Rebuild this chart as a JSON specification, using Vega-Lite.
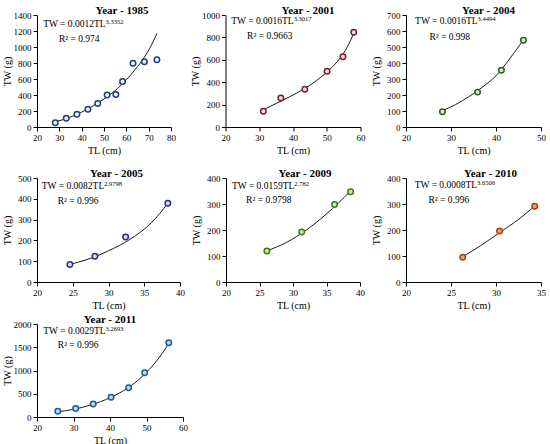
{
  "$schema": "https://vega.github.io/schema/vega-lite/v6.json",
  "background": "white",
  "padding": {"left": 2, "top": 5, "right": 0, "bottom": 0},
  "datasets": {
    "pts": [
      {"year": 1985, "x": 28.2, "y": 54}, {"year": 1985, "x": 33.1, "y": 109}, {"year": 1985, "x": 37.9, "y": 159},
      {"year": 1985, "x": 42.8, "y": 221}, {"year": 1985, "x": 47.2, "y": 293}, {"year": 1985, "x": 51.4, "y": 401},
      {"year": 1985, "x": 55.3, "y": 405}, {"year": 1985, "x": 58.3, "y": 568}, {"year": 1985, "x": 63.0, "y": 798},
      {"year": 1985, "x": 68.1, "y": 815}, {"year": 1985, "x": 73.7, "y": 840},
      {"year": 2001, "x": 31.2, "y": 140}, {"year": 2001, "x": 36.4, "y": 259}, {"year": 2001, "x": 43.5, "y": 338},
      {"year": 2001, "x": 50.1, "y": 497}, {"year": 2001, "x": 54.8, "y": 628}, {"year": 2001, "x": 58.0, "y": 845},
      {"year": 2004, "x": 28.1, "y": 96}, {"year": 2004, "x": 35.9, "y": 218}, {"year": 2004, "x": 41.2, "y": 355},
      {"year": 2004, "x": 46.1, "y": 542},
      {"year": 2005, "x": 24.6, "y": 84}, {"year": 2005, "x": 28.1, "y": 124}, {"year": 2005, "x": 32.4, "y": 216},
      {"year": 2005, "x": 38.3, "y": 379},
      {"year": 2009, "x": 26.1, "y": 119}, {"year": 2009, "x": 31.3, "y": 192}, {"year": 2009, "x": 36.2, "y": 298},
      {"year": 2009, "x": 38.6, "y": 347},
      {"year": 2010, "x": 26.3, "y": 95}, {"year": 2010, "x": 30.4, "y": 196}, {"year": 2010, "x": 34.3, "y": 291},
      {"year": 2011, "x": 25.7, "y": 123}, {"year": 2011, "x": 30.6, "y": 181}, {"year": 2011, "x": 35.4, "y": 282},
      {"year": 2011, "x": 40.3, "y": 426}, {"year": 2011, "x": 45.1, "y": 628}, {"year": 2011, "x": 49.5, "y": 953},
      {"year": 2011, "x": 56.1, "y": 1596}
    ],
    "fit": [
      {"year": 1985, "x": 28, "y": 62}, {"year": 1985, "x": 32, "y": 95}, {"year": 1985, "x": 36, "y": 135},
      {"year": 1985, "x": 40, "y": 185}, {"year": 1985, "x": 44, "y": 245}, {"year": 1985, "x": 48, "y": 315},
      {"year": 1985, "x": 52, "y": 390}, {"year": 1985, "x": 56, "y": 480}, {"year": 1985, "x": 60, "y": 590},
      {"year": 1985, "x": 64, "y": 720}, {"year": 1985, "x": 68, "y": 870}, {"year": 1985, "x": 71, "y": 1010},
      {"year": 1985, "x": 73.7, "y": 1170},
      {"year": 2001, "x": 31, "y": 150}, {"year": 2001, "x": 35, "y": 210}, {"year": 2001, "x": 39, "y": 270},
      {"year": 2001, "x": 43, "y": 335}, {"year": 2001, "x": 47, "y": 415}, {"year": 2001, "x": 50, "y": 490},
      {"year": 2001, "x": 53, "y": 580}, {"year": 2001, "x": 55, "y": 660}, {"year": 2001, "x": 57, "y": 770},
      {"year": 2001, "x": 58, "y": 840},
      {"year": 2004, "x": 28, "y": 100}, {"year": 2004, "x": 31, "y": 140}, {"year": 2004, "x": 34, "y": 190},
      {"year": 2004, "x": 37, "y": 250}, {"year": 2004, "x": 40, "y": 320}, {"year": 2004, "x": 43, "y": 425},
      {"year": 2004, "x": 46.1, "y": 545},
      {"year": 2005, "x": 24.6, "y": 85}, {"year": 2005, "x": 27, "y": 108}, {"year": 2005, "x": 30, "y": 150},
      {"year": 2005, "x": 33, "y": 205}, {"year": 2005, "x": 36, "y": 285}, {"year": 2005, "x": 38.3, "y": 378},
      {"year": 2009, "x": 26.1, "y": 120}, {"year": 2009, "x": 29, "y": 152}, {"year": 2009, "x": 32, "y": 200},
      {"year": 2009, "x": 35, "y": 262}, {"year": 2009, "x": 38.6, "y": 350},
      {"year": 2010, "x": 26.3, "y": 97}, {"year": 2010, "x": 28.3, "y": 140}, {"year": 2010, "x": 30.4, "y": 190},
      {"year": 2010, "x": 32.4, "y": 238}, {"year": 2010, "x": 34.3, "y": 292},
      {"year": 2011, "x": 25.7, "y": 112}, {"year": 2011, "x": 30, "y": 165}, {"year": 2011, "x": 35, "y": 265},
      {"year": 2011, "x": 40, "y": 415}, {"year": 2011, "x": 45, "y": 630}, {"year": 2011, "x": 50, "y": 960},
      {"year": 2011, "x": 53, "y": 1230}, {"year": 2011, "x": 56.1, "y": 1580}
    ],
    "lab": [
      {"year": 1985, "kind": "eq", "x": 50.7, "y": 1250, "t": "TW = 0.0012TL"},
      {"year": 1985, "kind": "sup", "x": 50.7, "y": 1250, "t": "3.3352"},
      {"year": 1985, "kind": "r2", "x": 29.8, "y": 1062, "t": "R² = 0.974"},
      {"year": 2001, "kind": "eq", "x": 40.2, "y": 924, "t": "TW = 0.0016TL"},
      {"year": 2001, "kind": "sup", "x": 40.2, "y": 924, "t": "3.3017"},
      {"year": 2001, "kind": "r2", "x": 26.4, "y": 784, "t": "R² = 0.9663"},
      {"year": 2004, "kind": "eq", "x": 35.9, "y": 642, "t": "TW = 0.0016TL"},
      {"year": 2004, "kind": "sup", "x": 35.9, "y": 642, "t": "3.4494"},
      {"year": 2004, "kind": "r2", "x": 25.2, "y": 544, "t": "R² = 0.998"},
      {"year": 2005, "kind": "eq", "x": 29.4, "y": 447, "t": "TW = 0.0082TL"},
      {"year": 2005, "kind": "sup", "x": 29.4, "y": 447, "t": "2.9798"},
      {"year": 2005, "kind": "r2", "x": 22.9, "y": 377, "t": "R² = 0.996"},
      {"year": 2009, "kind": "eq", "x": 30.2, "y": 359, "t": "TW = 0.0159TL"},
      {"year": 2009, "kind": "sup", "x": 30.2, "y": 359, "t": "2.782"},
      {"year": 2009, "kind": "r2", "x": 23.0, "y": 305, "t": "R² = 0.9798"},
      {"year": 2010, "kind": "eq", "x": 27.9, "y": 362, "t": "TW = 0.0008TL"},
      {"year": 2010, "kind": "sup", "x": 27.9, "y": 362, "t": "3.6506"},
      {"year": 2010, "kind": "r2", "x": 22.5, "y": 305, "t": "R² = 0.996"},
      {"year": 2011, "kind": "eq", "x": 38.8, "y": 1783, "t": "TW = 0.0029TL"},
      {"year": 2011, "kind": "sup", "x": 38.8, "y": 1783, "t": "3.2693"},
      {"year": 2011, "kind": "r2", "x": 25.7, "y": 1494, "t": "R² = 0.996"}
    ]
  },
  "vconcat": [
    {
      "hconcat": [
        {
          "width": 134, "height": 112,
          "title": {"text": "Year - 1985", "dx": 18},
          "encoding": {
            "x": {"field": "x", "type": "quantitative", "title": "TL (cm)", "scale": {"domain": [20, 80], "nice": false, "zero": false}, "axis": {"values": [20, 30, 40, 50, 60, 70, 80]}},
            "y": {"field": "y", "type": "quantitative", "title": "TW (g)", "scale": {"domain": [0, 1400], "nice": false}, "axis": {"values": [0, 200, 400, 600, 800, 1000, 1200, 1400]}}
          },
          "layer": [
            {"data": {"name": "fit"}, "transform": [{"filter": "datum.year == 1985"}], "mark": {"type": "line", "color": "#1a1a1a", "strokeWidth": 1, "interpolate": "monotone"}, "encoding": {}},
            {"data": {"name": "pts"}, "transform": [{"filter": "datum.year == 1985"}], "mark": {"type": "point", "shape": "circle", "filled": true, "fill": "#eef2fb", "stroke": "#203d7c", "strokeWidth": 1.5, "size": 30, "opacity": 1}},
            {"data": {"name": "lab"}, "transform": [{"filter": "datum.year == 1985 && datum.kind == 'eq'"}], "mark": {"type": "text", "align": "right", "baseline": "alphabetic", "fontSize": 9.5, "color": "#000"}, "encoding": {"text": {"field": "t"}}},
            {"data": {"name": "lab"}, "transform": [{"filter": "datum.year == 1985 && datum.kind == 'sup'"}], "mark": {"type": "text", "align": "left", "baseline": "alphabetic", "fontSize": 6.5, "dy": -3, "color": "#000"}, "encoding": {"text": {"field": "t"}}},
            {"data": {"name": "lab"}, "transform": [{"filter": "datum.year == 1985 && datum.kind == 'r2'"}], "mark": {"type": "text", "align": "left", "baseline": "alphabetic", "fontSize": 9.5, "color": "#000"}, "encoding": {"text": {"field": "t"}}}
          ]
        },
        {
          "hconcat": [
            {
              "width": 135, "height": 112,
              "title": {"text": "Year - 2001", "dx": 15},
              "encoding": {
                "x": {"field": "x", "type": "quantitative", "title": "TL (cm)", "scale": {"domain": [20, 60], "nice": false, "zero": false}, "axis": {"values": [20, 30, 40, 50, 60]}},
                "y": {"field": "y", "type": "quantitative", "title": "TW (g)", "scale": {"domain": [0, 1000], "nice": false}, "axis": {"values": [0, 200, 400, 600, 800, 1000]}}
              },
              "layer": [
                {"data": {"name": "fit"}, "transform": [{"filter": "datum.year == 2001"}], "mark": {"type": "line", "color": "#1a1a1a", "strokeWidth": 1, "interpolate": "monotone"}, "encoding": {}},
                {"data": {"name": "pts"}, "transform": [{"filter": "datum.year == 2001"}], "mark": {"type": "point", "shape": "circle", "filled": true, "fill": "#f4dcdc", "stroke": "#7a1f2b", "strokeWidth": 1.5, "size": 30, "opacity": 1}},
                {"data": {"name": "lab"}, "transform": [{"filter": "datum.year == 2001 && datum.kind == 'eq'"}], "mark": {"type": "text", "align": "right", "baseline": "alphabetic", "fontSize": 9.5, "color": "#000"}, "encoding": {"text": {"field": "t"}}},
                {"data": {"name": "lab"}, "transform": [{"filter": "datum.year == 2001 && datum.kind == 'sup'"}], "mark": {"type": "text", "align": "left", "baseline": "alphabetic", "fontSize": 6.5, "dy": -3, "color": "#000"}, "encoding": {"text": {"field": "t"}}},
                {"data": {"name": "lab"}, "transform": [{"filter": "datum.year == 2001 && datum.kind == 'r2'"}], "mark": {"type": "text", "align": "left", "baseline": "alphabetic", "fontSize": 9.5, "color": "#000"}, "encoding": {"text": {"field": "t"}}}
              ]
            },
            {
              "width": 135, "height": 112,
              "title": {"text": "Year - 2004", "dx": 15},
              "encoding": {
                "x": {"field": "x", "type": "quantitative", "title": "TL (cm)", "scale": {"domain": [20, 50], "nice": false, "zero": false}, "axis": {"values": [20, 30, 40, 50]}},
                "y": {"field": "y", "type": "quantitative", "title": "TW (g)", "scale": {"domain": [0, 700], "nice": false}, "axis": {"values": [0, 100, 200, 300, 400, 500, 600, 700]}}
              },
              "layer": [
                {"data": {"name": "fit"}, "transform": [{"filter": "datum.year == 2004"}], "mark": {"type": "line", "color": "#1a1a1a", "strokeWidth": 1, "interpolate": "monotone"}, "encoding": {}},
                {"data": {"name": "pts"}, "transform": [{"filter": "datum.year == 2004"}], "mark": {"type": "point", "shape": "circle", "filled": true, "fill": "#e0efd3", "stroke": "#2f5a1e", "strokeWidth": 1.5, "size": 30, "opacity": 1}},
                {"data": {"name": "lab"}, "transform": [{"filter": "datum.year == 2004 && datum.kind == 'eq'"}], "mark": {"type": "text", "align": "right", "baseline": "alphabetic", "fontSize": 9.5, "color": "#000"}, "encoding": {"text": {"field": "t"}}},
                {"data": {"name": "lab"}, "transform": [{"filter": "datum.year == 2004 && datum.kind == 'sup'"}], "mark": {"type": "text", "align": "left", "baseline": "alphabetic", "fontSize": 6.5, "dy": -3, "color": "#000"}, "encoding": {"text": {"field": "t"}}},
                {"data": {"name": "lab"}, "transform": [{"filter": "datum.year == 2004 && datum.kind == 'r2'"}], "mark": {"type": "text", "align": "left", "baseline": "alphabetic", "fontSize": 9.5, "color": "#000"}, "encoding": {"text": {"field": "t"}}}
              ]
            }
          ],
          "spacing": 5.5
        }
      ],
      "spacing": 14.5
    },
    {
      "vconcat": [
        {
          "hconcat": [
            {
              "width": 143, "height": 104,
              "title": {"text": "Year - 2005", "dx": 8},
              "encoding": {
                "x": {"field": "x", "type": "quantitative", "title": "TL (cm)", "scale": {"domain": [20, 40], "nice": false, "zero": false}, "axis": {"values": [20, 25, 30, 35, 40]}},
                "y": {"field": "y", "type": "quantitative", "title": "TW (g)", "scale": {"domain": [0, 500], "nice": false}, "axis": {"values": [0, 100, 200, 300, 400, 500]}}
              },
              "layer": [
                {"data": {"name": "fit"}, "transform": [{"filter": "datum.year == 2005"}], "mark": {"type": "line", "color": "#1a1a1a", "strokeWidth": 1, "interpolate": "monotone"}, "encoding": {}},
                {"data": {"name": "pts"}, "transform": [{"filter": "datum.year == 2005"}], "mark": {"type": "point", "shape": "circle", "filled": true, "fill": "#dcdff5", "stroke": "#2b2f80", "strokeWidth": 1.5, "size": 30, "opacity": 1}},
                {"data": {"name": "lab"}, "transform": [{"filter": "datum.year == 2005 && datum.kind == 'eq'"}], "mark": {"type": "text", "align": "right", "baseline": "alphabetic", "fontSize": 9.5, "color": "#000"}, "encoding": {"text": {"field": "t"}}},
                {"data": {"name": "lab"}, "transform": [{"filter": "datum.year == 2005 && datum.kind == 'sup'"}], "mark": {"type": "text", "align": "left", "baseline": "alphabetic", "fontSize": 6.5, "dy": -3, "color": "#000"}, "encoding": {"text": {"field": "t"}}},
                {"data": {"name": "lab"}, "transform": [{"filter": "datum.year == 2005 && datum.kind == 'r2'"}], "mark": {"type": "text", "align": "left", "baseline": "alphabetic", "fontSize": 9.5, "color": "#000"}, "encoding": {"text": {"field": "t"}}}
              ]
            },
            {
              "width": 134, "height": 104,
              "title": {"text": "Year - 2009", "dx": 12},
              "encoding": {
                "x": {"field": "x", "type": "quantitative", "title": "TL (cm)", "scale": {"domain": [20, 40], "nice": false, "zero": false}, "axis": {"values": [20, 25, 30, 35, 40]}},
                "y": {"field": "y", "type": "quantitative", "title": "TW (g)", "scale": {"domain": [0, 400], "nice": false}, "axis": {"values": [0, 100, 200, 300, 400]}}
              },
              "layer": [
                {"data": {"name": "fit"}, "transform": [{"filter": "datum.year == 2009"}], "mark": {"type": "line", "color": "#1a1a1a", "strokeWidth": 1, "interpolate": "monotone"}, "encoding": {}},
                {"data": {"name": "pts"}, "transform": [{"filter": "datum.year == 2009"}], "mark": {"type": "point", "shape": "circle", "filled": true, "fill": "#cfeab0", "stroke": "#3b7a1a", "strokeWidth": 1.5, "size": 30, "opacity": 1}},
                {"data": {"name": "lab"}, "transform": [{"filter": "datum.year == 2009 && datum.kind == 'eq'"}], "mark": {"type": "text", "align": "right", "baseline": "alphabetic", "fontSize": 9.5, "color": "#000"}, "encoding": {"text": {"field": "t"}}},
                {"data": {"name": "lab"}, "transform": [{"filter": "datum.year == 2009 && datum.kind == 'sup'"}], "mark": {"type": "text", "align": "left", "baseline": "alphabetic", "fontSize": 6.5, "dy": -3, "color": "#000"}, "encoding": {"text": {"field": "t"}}},
                {"data": {"name": "lab"}, "transform": [{"filter": "datum.year == 2009 && datum.kind == 'r2'"}], "mark": {"type": "text", "align": "left", "baseline": "alphabetic", "fontSize": 9.5, "color": "#000"}, "encoding": {"text": {"field": "t"}}}
              ]
            },
            {
              "width": 135, "height": 104,
              "title": {"text": "Year - 2010", "dx": 17},
              "encoding": {
                "x": {"field": "x", "type": "quantitative", "title": "TL (cm)", "scale": {"domain": [20, 35], "nice": false, "zero": false}, "axis": {"values": [20, 25, 30, 35]}},
                "y": {"field": "y", "type": "quantitative", "title": "TW (g)", "scale": {"domain": [0, 400], "nice": false}, "axis": {"values": [0, 100, 200, 300, 400]}}
              },
              "layer": [
                {"data": {"name": "fit"}, "transform": [{"filter": "datum.year == 2010"}], "mark": {"type": "line", "color": "#1a1a1a", "strokeWidth": 1, "interpolate": "monotone"}, "encoding": {}},
                {"data": {"name": "pts"}, "transform": [{"filter": "datum.year == 2010"}], "mark": {"type": "point", "shape": "circle", "filled": true, "fill": "#f4a35e", "stroke": "#a4400f", "strokeWidth": 1.5, "size": 30, "opacity": 1}},
                {"data": {"name": "lab"}, "transform": [{"filter": "datum.year == 2010 && datum.kind == 'eq'"}], "mark": {"type": "text", "align": "right", "baseline": "alphabetic", "fontSize": 9.5, "color": "#000"}, "encoding": {"text": {"field": "t"}}},
                {"data": {"name": "lab"}, "transform": [{"filter": "datum.year == 2010 && datum.kind == 'sup'"}], "mark": {"type": "text", "align": "left", "baseline": "alphabetic", "fontSize": 6.5, "dy": -3, "color": "#000"}, "encoding": {"text": {"field": "t"}}},
                {"data": {"name": "lab"}, "transform": [{"filter": "datum.year == 2010 && datum.kind == 'r2'"}], "mark": {"type": "text", "align": "left", "baseline": "alphabetic", "fontSize": 9.5, "color": "#000"}, "encoding": {"text": {"field": "t"}}}
              ]
            }
          ],
          "spacing": 6
        },
        {
          "width": 146, "height": 93,
          "title": {"text": "Year - 2011", "dx": 0},
          "encoding": {
            "x": {"field": "x", "type": "quantitative", "title": "TL (cm)", "scale": {"domain": [20, 60], "nice": false, "zero": false}, "axis": {"values": [20, 30, 40, 50, 60]}},
            "y": {"field": "y", "type": "quantitative", "title": "TW (g)", "scale": {"domain": [0, 2000], "nice": false}, "axis": {"values": [0, 500, 1000, 1500, 2000]}}
          },
          "layer": [
            {"data": {"name": "fit"}, "transform": [{"filter": "datum.year == 2011"}], "mark": {"type": "line", "color": "#1a1a1a", "strokeWidth": 1, "interpolate": "monotone"}, "encoding": {}},
            {"data": {"name": "pts"}, "transform": [{"filter": "datum.year == 2011"}], "mark": {"type": "point", "shape": "circle", "filled": true, "fill": "#b5dcf2", "stroke": "#1d5a96", "strokeWidth": 1.5, "size": 30, "opacity": 1}},
            {"data": {"name": "lab"}, "transform": [{"filter": "datum.year == 2011 && datum.kind == 'eq'"}], "mark": {"type": "text", "align": "right", "baseline": "alphabetic", "fontSize": 9.5, "color": "#000"}, "encoding": {"text": {"field": "t"}}},
            {"data": {"name": "lab"}, "transform": [{"filter": "datum.year == 2011 && datum.kind == 'sup'"}], "mark": {"type": "text", "align": "left", "baseline": "alphabetic", "fontSize": 6.5, "dy": -3, "color": "#000"}, "encoding": {"text": {"field": "t"}}},
            {"data": {"name": "lab"}, "transform": [{"filter": "datum.year == 2011 && datum.kind == 'r2'"}], "mark": {"type": "text", "align": "left", "baseline": "alphabetic", "fontSize": 9.5, "color": "#000"}, "encoding": {"text": {"field": "t"}}}
          ]
        }
      ],
      "spacing": 4
    }
  ],
  "spacing": 13,
  "config": {
    "font": "Liberation Serif",
    "view": {"stroke": null},
    "axis": {
      "grid": false, "domainColor": "#000", "tickColor": "#000", "labelColor": "#000", "titleColor": "#000",
      "labelFont": "Liberation Serif", "titleFont": "Liberation Serif",
      "labelFontSize": 9, "titleFontSize": 10, "titleFontWeight": "normal", "format": "d", "labelFlush": false,
      "tickSize": 4, "labelPadding": 2, "titlePadding": 3, "domainWidth": 1, "tickWidth": 1
    },
    "axisY": {"minExtent": 23, "maxExtent": 23, "titlePadding": 2},
    "title": {"font": "Liberation Serif", "fontSize": 11, "fontWeight": "bold", "color": "#000", "offset": -5, "frame": "group"},
    "text": {"font": "Liberation Serif"}
  }
}
